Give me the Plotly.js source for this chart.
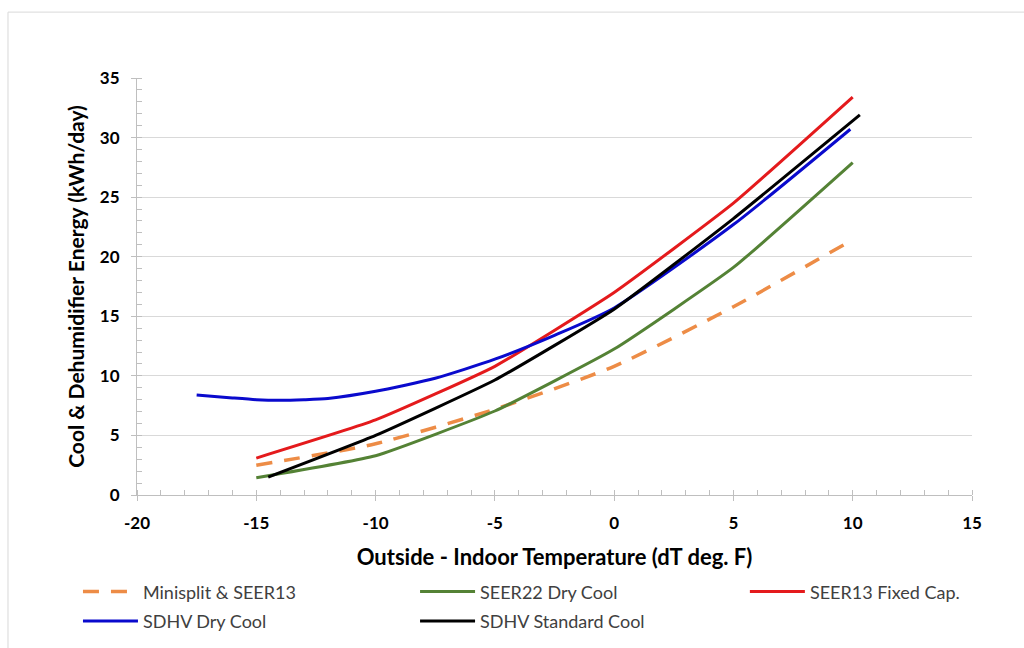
<!DOCTYPE html>
<html><head><meta charset="utf-8">
<script src="https://cdn.plot.ly/plotly-3.0.1.min.js"></script>
<style>body{margin:0;background:#fff}#chart{width:1024px;height:648px}</style>
</head><body><div id="chart"></div>
<script>
const miniX = [-15, -10, -5, 0, 5, 9.8];
const miniY = [2.5, 4.3, 7.2, 10.8, 15.8, 21.2];
const seer22X = [-15, -10, -5, 0, 5, 10];
const seer22Y = [1.45, 3.3, 7.05, 12.25, 19.1, 27.9];
const seer13X = [-15, -10, -5, 0, 5, 10];
const seer13Y = [3.1, 6.3, 10.8, 17.0, 24.5, 33.4];
const dryX = [-17.5, -16, -15, -14, -13, -12, -10, -7.5, -5, -2.5, 0, 5, 9.9];
const dryY = [8.4, 8.15, 8.0, 7.95, 8.0, 8.1, 8.7, 9.8, 11.4, 13.4, 15.7, 22.7, 30.7];
const stdX = [-14.5, -10, -5, 0, 5, 10.3];
const stdY = [1.5, 5.0, 9.65, 15.6, 23.2, 31.9];
const names = ["Minisplit & SEER13", "SEER22 Dry Cool", "SEER13 Fixed Cap.", "SDHV Dry Cool", "SDHV Standard Cool"];
const xTicks = [-20, -15, -10, -5, 0, 5, 10, 15];
const xTickText = ["-20", "-15", "-10", "-5", "0", "5", "10", "15"];
const yTicks = [0, 5, 10, 15, 20, 25, 30, 35];

const traces = [
  {x: miniX, y: miniY, name: names[0], legend: 'legend', legendgroup: 'a', mode: 'lines', line: {color: '#ED8C46', width: 3.5, dash: '16px,12px', shape: 'spline', smoothing: 0.6}},
  {x: seer22X, y: seer22Y, name: names[1], legend: 'legend2', legendgroup: 'b', mode: 'lines', line: {color: '#548235', width: 3, shape: 'spline', smoothing: 0.4}},
  {x: seer13X, y: seer13Y, name: names[2], legend: 'legend3', legendgroup: 'c', mode: 'lines', line: {color: '#E41A1C', width: 3, shape: 'spline', smoothing: 0.4}},
  {x: dryX, y: dryY, name: names[3], legend: 'legend', legendgroup: 'd', mode: 'lines', line: {color: '#0A0ACD', width: 3, shape: 'spline', smoothing: 0.6}},
  {x: stdX, y: stdY, name: names[4], legend: 'legend2', legendgroup: 'e', mode: 'lines', line: {color: '#000000', width: 3, shape: 'spline', smoothing: 0.4}}
];

const legBase = {orientation: 'v', xanchor: 'left', y: -0.188, yanchor: 'top', itemwidth: 55,
  tracegroupgap: 3, bgcolor: 'rgba(0,0,0,0)',
  font: {family: 'Lato, sans-serif', size: 18, color: '#404040'}};

const layout = {
  width: 1024, height: 648,
  margin: {l: 137, r: 52, t: 78, b: 153, autoexpand: false},
  paper_bgcolor: '#ffffff', plot_bgcolor: '#ffffff',
  font: {family: 'Lato, "Open Sans", sans-serif', color: '#000'},
  showlegend: true,
  legend: Object.assign({}, legBase, {x: -0.0707}),
  legend2: Object.assign({}, legBase, {x: 0.333}),
  legend3: Object.assign({}, legBase, {x: 0.728}),
  xaxis: {range: [-20, 15], tickvals: xTicks, ticktext: xTickText, ticks: 'outside', ticklen: 5, tickcolor: '#bfbfbf',
    ticklabelstandoff: 8,
    showgrid: false, zeroline: false, showline: true, linecolor: '#bfbfbf', linewidth: 1,
    tickfont: {size: 17, color: '#000', weight: 'bold'},
    minor: {dtick: 1, ticks: 'inside', ticklen: 5, tickcolor: '#bfbfbf', showgrid: false},
    title: {text: '<b>Outside - Indoor Temperature (dT deg. F)</b>', font: {size: 22, color: '#000'}, standoff: 17}},
  yaxis: {range: [0, 35], tickvals: yTicks, ticks: 'outside', ticklen: 5, tickcolor: '#bfbfbf',
    ticklabelstandoff: 8,
    showgrid: true, gridcolor: '#d9d9d9', zeroline: false, showline: true, linecolor: '#bfbfbf', linewidth: 1,
    tickfont: {size: 17, color: '#000', weight: 'bold'},
    minor: {dtick: 1, ticks: 'inside', ticklen: 5, tickcolor: '#bfbfbf', showgrid: false},
    title: {text: '<b>Cool & Dehumidifier Energy (kWh/day)</b>', font: {size: 21, color: '#000'}, standoff: 9}},
  shapes: [{type: 'rect', xref: 'paper', yref: 'paper', x0: -0.1545, x1: 1.2, y0: -0.5, y1: 1.158,
    line: {color: '#d9d9d9', width: 1}, fillcolor: 'rgba(0,0,0,0)', layer: 'below'}]
};
Plotly.newPlot('chart', traces, layout, {displayModeBar: false});
</script></body></html>
